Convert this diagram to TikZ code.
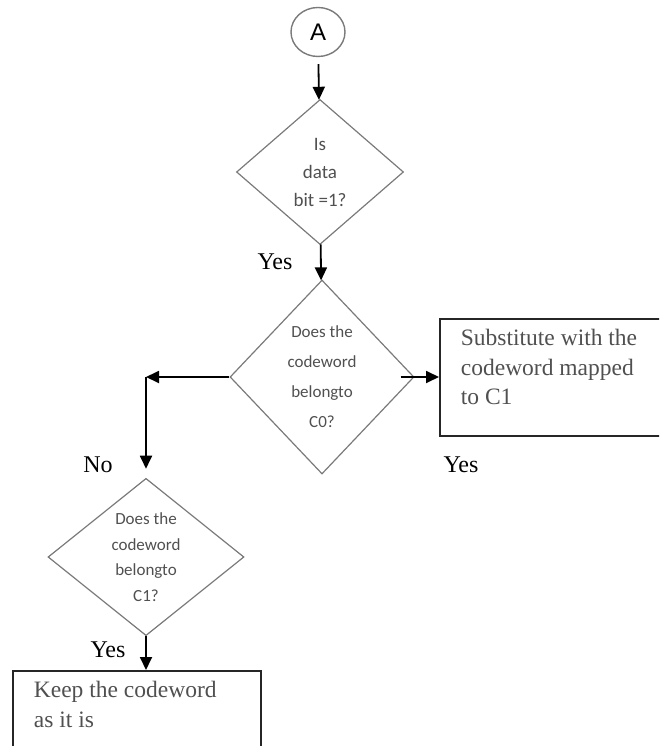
\documentclass[tikz,border=0pt]{standalone}
\usepackage{fontspec}
\setmainfont{Liberation Serif}
\newfontfamily\diafont{Carlito}
\newfontfamily\circfont{Liberation Sans}
\usetikzlibrary{shapes.geometric,arrows.meta}
\definecolor{txtgray}{HTML}{505050}
\definecolor{linegray}{HTML}{7A7A7A}
\begin{document}
\begin{tikzpicture}[x=1pt,y=-1pt,
  decision/.style={diamond,draw=linegray,line width=1.2pt,inner sep=0pt,align=center,text=txtgray},
  procbox/.style={rectangle,draw=black!85,line width=1.8pt,anchor=north west,align=flush left,text=txtgray,
    font=\fontsize{23.5}{29.5}\selectfont,inner xsep=21pt,inner ysep=10.5pt,text height=16.5pt},
  flow/.style={-{Triangle[length=13pt,width=12pt]},line width=1.8pt},
  answer/.style={font=\fontsize{24}{29}\selectfont}]
\useasboundingbox (0,0) rectangle (659,746);
\clip (0,0) rectangle (659,746);
\node[ellipse,draw=linegray,line width=1.4pt,minimum width=54pt,minimum height=49pt,inner sep=0pt,
  font=\circfont\fontsize{24}{26}\selectfont] (start) at (318,32) {A};
\node[decision,minimum width=167pt,minimum height=145pt,font=\diafont\fontsize{19}{28}\selectfont]
  (bitone) at (320,172) {Is\\data\\bit =1?};
\node[decision,minimum width=184pt,minimum height=194pt,font=\diafont\fontsize{17}{30}\selectfont]
  (inczero) at (322,377) {Does the\\codeword\\belongto\\C0?};
\node[decision,minimum width=196pt,minimum height=148pt,font=\diafont\fontsize{17}{25.5}\selectfont]
  (inc1) at (146,557) {Does the\\codeword\\belongto\\C1?};
\node[procbox,text width=230pt,text depth=79.5pt] (subst) at (439,318)
  {Substitute with the\\codeword mapped\\to C1};
\node[procbox,text width=206pt,text depth=60pt] (keep) at (12,670)
  {Keep the codeword\\as it is};
\coordinate (turn) at (146,377);
\draw[flow,shorten <=7pt] (start) -- (bitone);
\draw[flow] (bitone) -- (inczero);
\draw[flow,shorten <=-14pt] (inczero.east) -- (subst.west |- inczero.east);
\draw[flow] (inczero.west) -- (turn);
\draw[flow,shorten >=9pt] (turn) -- (inc1.north);
\draw[flow] (inc1.south) -- (inc1.south |- keep.north);
\node[answer] (yesa) at (275,262) {Yes};
\node[answer] (yesb) at (461,465) {Yes};
\node[answer] (nolbl) at (98,465) {No};
\node[answer] (yesc) at (108,650) {Yes};
\end{tikzpicture}
\end{document}
